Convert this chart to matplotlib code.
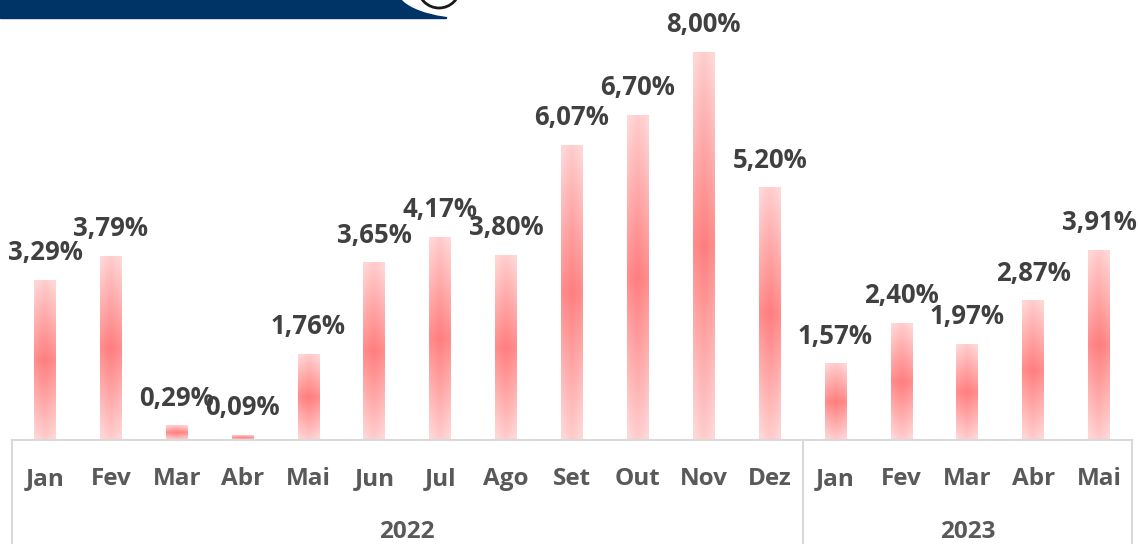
import numpy as np
import matplotlib
matplotlib.use("Agg")
import matplotlib.pyplot as plt
from matplotlib.patches import Rectangle, Ellipse, Circle

# data
months = ["Jan", "Fev", "Mar", "Abr", "Mai", "Jun", "Jul", "Ago", "Set", "Out", "Nov", "Dez",
          "Jan", "Fev", "Mar", "Abr", "Mai"]
years = ["2022", "2023"]
year_counts = [12, 5]
values = [3.29, 3.79, 0.29, 0.09, 1.76, 3.65, 4.17, 3.80, 6.07, 6.70, 8.00, 5.20,
          1.57, 2.40, 1.97, 2.87, 3.91]

plt.rcParams['font.family'] = ['Open Sans', 'DejaVu Sans']

W, H = 1138, 544
fig = plt.figure(figsize=(W / 100, H / 100), dpi=100)
ax = fig.add_axes([12 / W, 1 - 440 / H, (1132 - 12) / W, 440 / H])

# gradient for bars: light pink at the ends, red in the middle
edge = np.array([255, 214, 214]) / 255
centre = np.array([255, 125, 125]) / 255
ny, nx = 200, 30
yy = np.abs(np.linspace(-1, 1, ny))[:, None]
xx = np.abs(np.linspace(-1, 1, nx))[None, :]
t = np.clip(0.88 * yy + 0.18 * xx, 0, 1)
grad = centre[None, None, :] * (1 - t[..., None]) + edge[None, None, :] * t[..., None]

bw = 0.33
x = np.arange(len(values))
for xi, v in zip(x, values):
    ax.imshow(grad, extent=[xi - bw / 2, xi + bw / 2, 0, v], aspect='auto',
              interpolation='bilinear', zorder=2)
    ax.annotate(f"{v:.2f}%".replace(".", ","), (xi, v), xytext=(0, 20),
                textcoords='offset points', ha='center', va='center',
                fontsize=18.5, fontweight='bold', color='#404040', zorder=4)

ax.set_xlim(-0.5, len(values) - 0.5)
ax.set_ylim(0, 440 / 48.5)
ax.set_axis_off()

# category axis with group separators
line_c = '#D9D9D9'
xt = ax.get_xaxis_transform()
ax.plot([-0.5, len(values) - 0.5], [0, 0], color=line_c, lw=1.5, transform=xt,
        clip_on=False, zorder=3)
bounds = np.concatenate([[0], np.cumsum(year_counts)]) - 0.5
for b in bounds:
    ax.plot([b, b], [0, -0.3], color=line_c, lw=1.5, transform=xt, clip_on=False)
for xi, m in zip(x, months):
    ax.text(xi, -0.088, m, transform=xt, ha='center', va='center', fontsize=17.5,
            fontweight='bold', color='#595959')
for i, yr in enumerate(years):
    ax.text((bounds[i] + bounds[i + 1]) / 2, -0.208, yr, transform=xt, ha='center',
            va='center', fontsize=17.5, fontweight='bold', color='#595959')

# header band cropped at the top
hdr = fig.add_axes([0, 0, 1, 1], zorder=-1)
hdr.set_xlim(0, W)
hdr.set_ylim(H, 0)
hdr.set_axis_off()
hdr.add_patch(Rectangle((0, 0), 446, 18, color='#003366'))
hdr.add_patch(Ellipse((472, -10), 148, 56, color='white'))
hdr.add_patch(Circle((439, -13), 21, fill=False, ec='#1a1a1a', lw=2))

fig.savefig("out.png", dpi=100)
